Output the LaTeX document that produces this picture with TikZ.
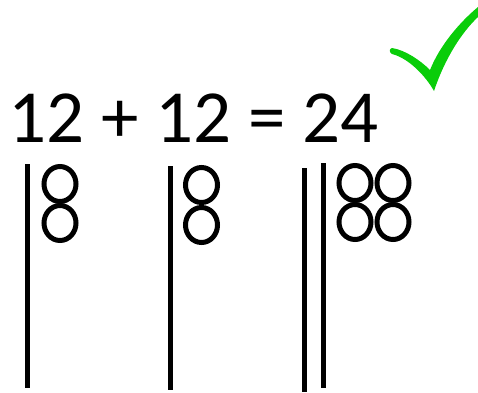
\documentclass[tikz,border=0pt]{standalone}
\usepackage{fontspec}
\setmainfont{Carlito}
\definecolor{tickgreen}{RGB}{10,205,10}
\begin{document}
\begin{tikzpicture}[
        x=1pt, y=-1pt,
        tally/.style={draw, line width=5pt},
        bead/.style={draw, line width=5pt, x radius=16pt, y radius=17.5pt}
    ]
        \useasboundingbox (0,0) rectangle (478,392);
        \node [anchor=base west, inner sep=0pt, font=\fontsize{75}{75}\selectfont] (sum) at (8,142) {12 + 12 = 24};

        % tens
        \path [tally] (27,164) -- (27,388);
        \path [tally] (170,166) -- (170,390);
        \path [tally] (304,168) -- (304,392);
        \path [tally] (323,163) -- (323,388);

        % ones
        \foreach \cx/\cy in {60/184, 60/223, 201.5/185, 201.5/225, 355/183, 355/222, 393/183, 393/222}
            \path [bead] (\cx,\cy) ellipse [];

        % tick
        \fill [tickgreen] (392,48) .. controls (405,50) and (420,60) .. (430,70)
            .. controls (440,45) and (460,22) .. (478,7) -- (478,17)
            .. controls (462,32) and (445,58) .. (434,91)
            .. controls (425,75) and (408,58) .. (392,54)
            .. controls (389,52) and (389,49) .. cycle;
    \end{tikzpicture}
\end{document}
